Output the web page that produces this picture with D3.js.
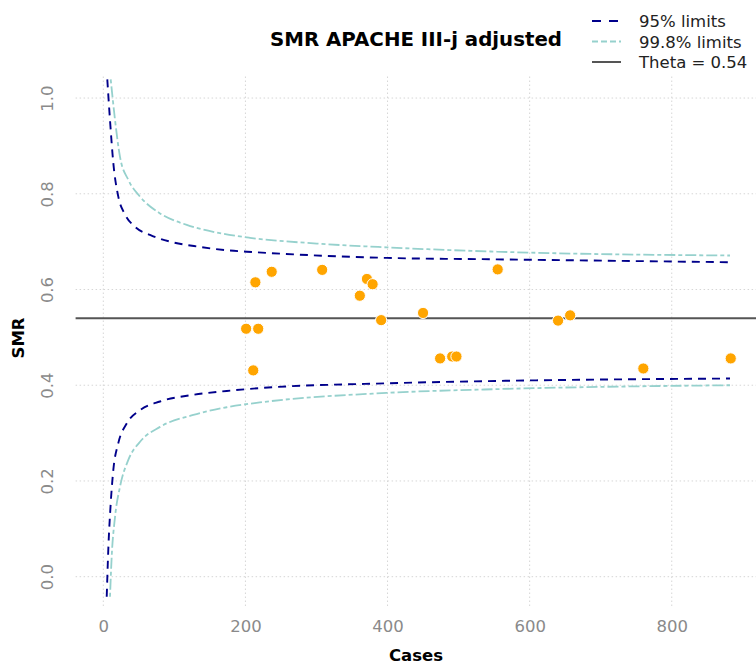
<!DOCTYPE html>
<html>
<head>
  <meta charset="utf-8">
  <title>SMR APACHE III-j adjusted</title>
  <script src="https://cdn.jsdelivr.net/npm/d3@7"></script>
  <style type="text/css">
    body { margin: 0; background: #fff; }
    text { font-family: "DejaVu Sans", sans-serif; }
  </style>
</head>
<body>
<script>

var width = 756;
var height = 664;
var theta = 0.54;

// hospitals: cases and SMR
var cases = [201, 218, 214, 237, 308, 371, 379, 361, 391, 450, 211, 474, 491, 497, 555, 640, 657, 760, 883];
var smr   = [0.518, 0.518, 0.615, 0.637, 0.641, 0.622, 0.611, 0.587, 0.536, 0.551, 0.431, 0.456, 0.460, 0.460, 0.642, 0.535, 0.546, 0.435, 0.456];

// control limits
var n95Up   = [5.6, 9.4, 14.1, 21.1, 30.5, 44.6, 65.7, 93.9, 136.1, 173.7, 213.5, 398.9, 553.7, 882];
var v95Up   = [1.039, 0.954, 0.864, 0.794, 0.757, 0.731, 0.714, 0.700, 0.689, 0.682, 0.678, 0.666, 0.663, 0.657];
var n95Lo   = [4.8, 7.0, 10.4, 14.1, 21.1, 32.9, 51.7, 79.8, 126.7, 173.7, 220.3, 398.9, 557.6, 882];
var v95Lo   = [-0.042, 0.056, 0.153, 0.223, 0.279, 0.320, 0.348, 0.366, 0.380, 0.388, 0.394, 0.404, 0.409, 0.414];
var n998Up  = [10.4, 16.5, 23.5, 35.2, 51.7, 79.8, 117.4, 159.6, 206.5, 300.4, 398.9, 553.7, 882];
var v998Up  = [1.039, 0.954, 0.877, 0.829, 0.794, 0.759, 0.735, 0.719, 0.708, 0.696, 0.688, 0.679, 0.671];
var n998Lo  = [9.4, 11.8, 16.5, 23.5, 35.2, 51.7, 79.8, 126.7, 173.7, 220.3, 398.9, 557.6, 882];
var v998Lo  = [-0.042, 0.042, 0.125, 0.188, 0.244, 0.282, 0.313, 0.338, 0.354, 0.364, 0.384, 0.392, 0.400];

var xTicks = [0, 200, 400, 600, 800];
var yTicks = [0, 0.2, 0.4, 0.6, 0.8, 1.0];
var legendLabels = ["95% limits", "99.8% limits", "Theta = 0.54"];

var svg = d3.select("body").append("svg")
  .attr("width", width).attr("height", height);

var x = d3.scaleLinear().domain([-39, 927]).range([75.6, 762]);
var y = d3.scaleLinear().domain([-0.065, 1.045]).range([607.8, 76.5]);

// grid
svg.append("g").selectAll("line").data(xTicks).enter().append("line")
  .attr("x1", function(d){ return x(d); }).attr("x2", function(d){ return x(d); })
  .attr("y1", y(1.045)).attr("y2", y(-0.065))
  .attr("stroke", "#d6d6d6").attr("stroke-width", 1).attr("stroke-dasharray", "1.5,2.5");
svg.append("g").selectAll("line").data(yTicks).enter().append("line")
  .attr("x1", x(-39)).attr("x2", x(927))
  .attr("y1", function(d){ return y(d); }).attr("y2", function(d){ return y(d); })
  .attr("stroke", "#d6d6d6").attr("stroke-width", 1).attr("stroke-dasharray", "1.5,2.5");

// axes (labels only)
var xAxis = svg.append("g").attr("transform", "translate(0," + 612 + ")")
  .call(d3.axisBottom(x).tickValues(xTicks).tickSize(0).tickPadding(8));
xAxis.select(".domain").remove();
xAxis.selectAll("text").attr("fill", "#8a8a8a").style("font-size", "16.5px");

var yAxis = svg.append("g").attr("transform", "translate(" + 60 + ",0)")
  .call(d3.axisLeft(y).tickValues(yTicks).tickFormat(d3.format(".1f")).tickSize(0).tickPadding(0));
yAxis.select(".domain").remove();
yAxis.selectAll("text")
  .attr("fill", "#8a8a8a").style("font-size", "16.5px")
  .attr("x", null).attr("dy", null)
  .attr("text-anchor", "middle")
  .attr("transform", "translate(-7,0) rotate(-90)");

var line = d3.line()
  .x(function(d){ return x(d[0]); })
  .y(function(d){ return y(d[1]); })
  .curve(d3.curveMonotoneX);

function pairs(a, b){ return a.map(function(v, i){ return [v, b[i]]; }); }

var limits = [
  {n: n998Up, v: v998Up, color: "#96d1cd", dash: "4,3,11,3", w: 1.8},
  {n: n998Lo, v: v998Lo, color: "#96d1cd", dash: "4,3,11,3", w: 1.8},
  {n: n95Up,  v: v95Up,  color: "#00008b", dash: "8,6", w: 1.9},
  {n: n95Lo,  v: v95Lo,  color: "#00008b", dash: "8,6", w: 1.9}
];
limits.forEach(function(l){
  svg.append("path")
    .datum(pairs(l.n, l.v))
    .attr("d", line)
    .attr("fill", "none")
    .attr("stroke", l.color)
    .attr("stroke-width", l.w)
    .attr("stroke-dasharray", l.dash);
});

// theta
svg.append("line")
  .attr("x1", x(-39)).attr("x2", x(927))
  .attr("y1", y(theta)).attr("y2", y(theta))
  .attr("stroke", "#555").attr("stroke-width", 2);

// points
svg.append("g").selectAll("circle")
  .data(pairs(cases, smr))
  .enter().append("circle")
  .attr("cx", function(d){ return x(d[0]); })
  .attr("cy", function(d){ return y(d[1]); })
  .attr("r", 5.6)
  .attr("fill", "#ffa500")
  .attr("stroke", "#fff")
  .attr("stroke-width", 1);

// titles
svg.append("text").attr("x", 416).attr("y", 46)
  .attr("text-anchor", "middle").style("font-size", "19.8px").style("font-weight", "bold")
  .text("SMR APACHE III-j adjusted");
svg.append("text").attr("x", 416).attr("y", 661)
  .attr("text-anchor", "middle").style("font-size", "16.5px").style("font-weight", "bold")
  .text("Cases");
svg.append("text").attr("transform", "translate(24,338) rotate(-90)")
  .attr("text-anchor", "middle").style("font-size", "16.5px").style("font-weight", "bold")
  .text("SMR");

// legend
var legStyles = [
  {color: "#00008b", dash: "9,8", w: 2},
  {color: "#96d1cd", dash: "6,3,6,3", w: 1.8},
  {color: "#555", dash: null, w: 2}
];
var leg = svg.append("g");
legendLabels.forEach(function(lab, i){
  var yy = 21 + i * 20.5;
  leg.append("line")
    .attr("x1", 592).attr("x2", 621).attr("y1", yy).attr("y2", yy)
    .attr("stroke", legStyles[i].color).attr("stroke-width", legStyles[i].w)
    .attr("stroke-dasharray", legStyles[i].dash);
  leg.append("text").attr("x", 639).attr("y", yy + 6)
    .style("font-size", "16.5px").attr("fill", "#222")
    .text(lab);
});

</script>
</body>
</html>
